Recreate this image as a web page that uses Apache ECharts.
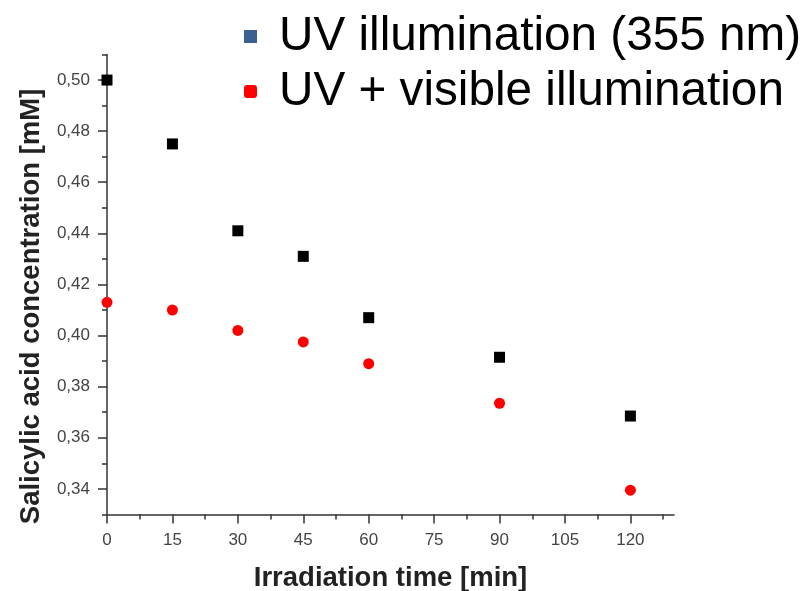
<!DOCTYPE html>
<html>
<head>
<meta charset="utf-8">
<script src="https://cdn.jsdelivr.net/npm/echarts@6/dist/echarts.min.js"></script>
<style>html,body{margin:0;padding:0;background:#fff}#c{width:806px;height:591px}</style>
</head>
<body>
<div id="c"></div>
<script>
const times = [0, 15, 30, 45, 60, 90, 120];
const uvValues = [0.500, 0.475, 0.441, 0.431, 0.407, 0.3915, 0.3685];
const uvVisValues = [0.413, 0.410, 0.402, 0.3975, 0.389, 0.3735, 0.3395];
const seriesNames = ['UV illumination (355 nm)', 'UV + visible illumination'];
const yMajorTicks = [0.34, 0.36, 0.38, 0.40, 0.42, 0.44, 0.46, 0.48, 0.50];
const yMinorTicks = [0.33, 0.35, 0.37, 0.39, 0.41, 0.43, 0.45, 0.47, 0.49, 0.51];
const xMajorTicks = [0, 15, 30, 45, 60, 75, 90, 105, 120];
const xMinorTicks = [7.5, 22.5, 37.5, 52.5, 67.5, 82.5, 97.5, 112.5, 127.5];

const FONT = '"Liberation Sans", Arial, sans-serif';
const chart = echarts.init(document.getElementById('c'), null, {renderer: 'canvas'});
const axisLineStyle = {color: '#333', width: 1.5};
const labelStyle = {color: '#444', fontSize: 17, fontFamily: FONT};

chart.setOption({
  animation: false,
  backgroundColor: '#fff',
  grid: {left: 107, right: 132, top: 54.5, bottom: 76.6, containLabel: false, outerBoundsMode: 'none'},
  legend: {
    orient: 'vertical',
    left: 239, top: 7,
    itemWidth: 13, itemHeight: 13,
    itemGap: 6,
    textStyle: {fontSize: 47.7, fontFamily: FONT, color: '#000', lineHeight: 49, padding: [0, 0, 0, 17]},
    data: [
      {name: seriesNames[0], icon: 'rect', itemStyle: {color: '#3a5f91', opacity: 1}},
      {name: seriesNames[1], icon: 'roundRect', itemStyle: {color: '#ff0000', opacity: 1}}
    ]
  },
  xAxis: [{
    type: 'value', min: 0, max: 130,
    name: 'Irradiation time [min]', nameLocation: 'middle', nameGap: 50,
    nameTextStyle: {fontSize: 27.5, fontWeight: 'bold', fontFamily: FONT, color: '#222'},
    axisLine: {show: true, lineStyle: axisLineStyle},
    axisTick: {show: true, inside: false, length: 9, lineStyle: axisLineStyle, customValues: xMajorTicks},
    axisLabel: {show: true, margin: 17, customValues: xMajorTicks, ...labelStyle},
    splitLine: {show: false}
  }, {
    type: 'value', min: 0, max: 130, position: 'bottom',
    axisLine: {show: false},
    axisTick: {show: true, inside: false, length: 5, lineStyle: axisLineStyle, customValues: xMinorTicks},
    axisLabel: {show: false},
    splitLine: {show: false}
  }],
  yAxis: [{
    type: 'value', min: 0.33, max: 0.51,
    name: 'Salicylic acid concentration [mM]', nameLocation: 'middle', nameGap: 62,
    nameTextStyle: {fontSize: 27.5, fontWeight: 'bold', fontFamily: FONT, color: '#222', padding: [0, 44, 0, 0]},
    axisLine: {show: true, lineStyle: axisLineStyle},
    axisTick: {show: true, inside: false, length: 9, lineStyle: axisLineStyle, customValues: yMajorTicks},
    axisLabel: {show: true, margin: 17, customValues: yMajorTicks, ...labelStyle,
      formatter: v => v.toFixed(2).replace('.', ',')},
    splitLine: {show: false}
  }, {
    type: 'value', min: 0.33, max: 0.51, position: 'left',
    axisLine: {show: false},
    axisTick: {show: true, inside: false, length: 5, lineStyle: axisLineStyle, customValues: yMinorTicks},
    axisLabel: {show: false},
    splitLine: {show: false}
  }],
  series: [{
    name: seriesNames[0], type: 'scatter', symbol: 'rect', symbolSize: 11,
    itemStyle: {color: '#000', opacity: 1},
    data: times.map((t, i) => [t, uvValues[i]])
  }, {
    name: seriesNames[1], type: 'scatter', symbol: 'circle', symbolSize: 11,
    itemStyle: {color: '#ff0000', opacity: 1},
    data: times.map((t, i) => [t, uvVisValues[i]])
  }]
});
</script>
</body>
</html>
